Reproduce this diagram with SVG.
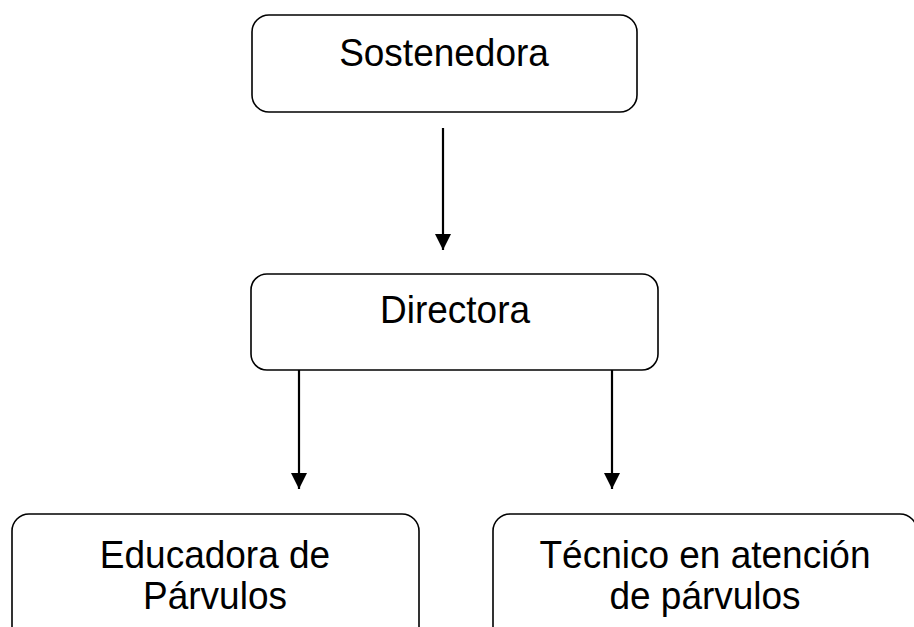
<svg xmlns="http://www.w3.org/2000/svg" width="914" height="627" viewBox="0 0 914 627">
<defs>
<marker id="ah" markerUnits="userSpaceOnUse" markerWidth="16" markerHeight="16" refX="16" refY="8" orient="auto" viewBox="0 0 16 16">
<path d="M0,0 L16,8 L0,16 Z" fill="#000"/>
</marker>
<style>
.box{fill:#fff;stroke:#000;stroke-width:1.6}
.lbl{font-family:"Liberation Sans",Arial,sans-serif;font-size:37px;fill:#000;text-anchor:middle}
.con{stroke:#000;stroke-width:2.2;fill:none}
</style>
</defs>
<rect width="914" height="627" fill="#fff"/>
<g id="sostenedora">
<rect class="box" x="252" y="15" width="385" height="97" rx="17"/>
<text class="lbl" transform="translate(444,66) scale(1,1.07)">Sostenedora</text>
</g>
<g id="directora">
<rect class="box" x="251" y="274" width="407" height="96" rx="16"/>
<text class="lbl" transform="translate(455,323) scale(1,1.07)">Directora</text>
</g>
<g id="educadora">
<rect class="box" x="12" y="514" width="407" height="140" rx="17"/>
<text class="lbl" transform="translate(215,568) scale(1,1.07)">Educadora de</text>
<text class="lbl" transform="translate(215,609) scale(1,1.07)">Párvulos</text>
</g>
<g id="tecnico">
<rect class="box" x="493" y="514" width="424" height="140" rx="17"/>
<text class="lbl" transform="translate(705,568) scale(1,1.07)">Técnico en atención</text>
<text class="lbl" transform="translate(705,609) scale(1,1.07)">de párvulos</text>
</g>
<g id="connectors">
<line class="con" x1="443" y1="128" x2="443" y2="250" marker-end="url(#ah)"/>
<line class="con" x1="299" y1="370" x2="299" y2="489" marker-end="url(#ah)"/>
<line class="con" x1="612" y1="370" x2="612" y2="489" marker-end="url(#ah)"/>
</g>
</svg>
